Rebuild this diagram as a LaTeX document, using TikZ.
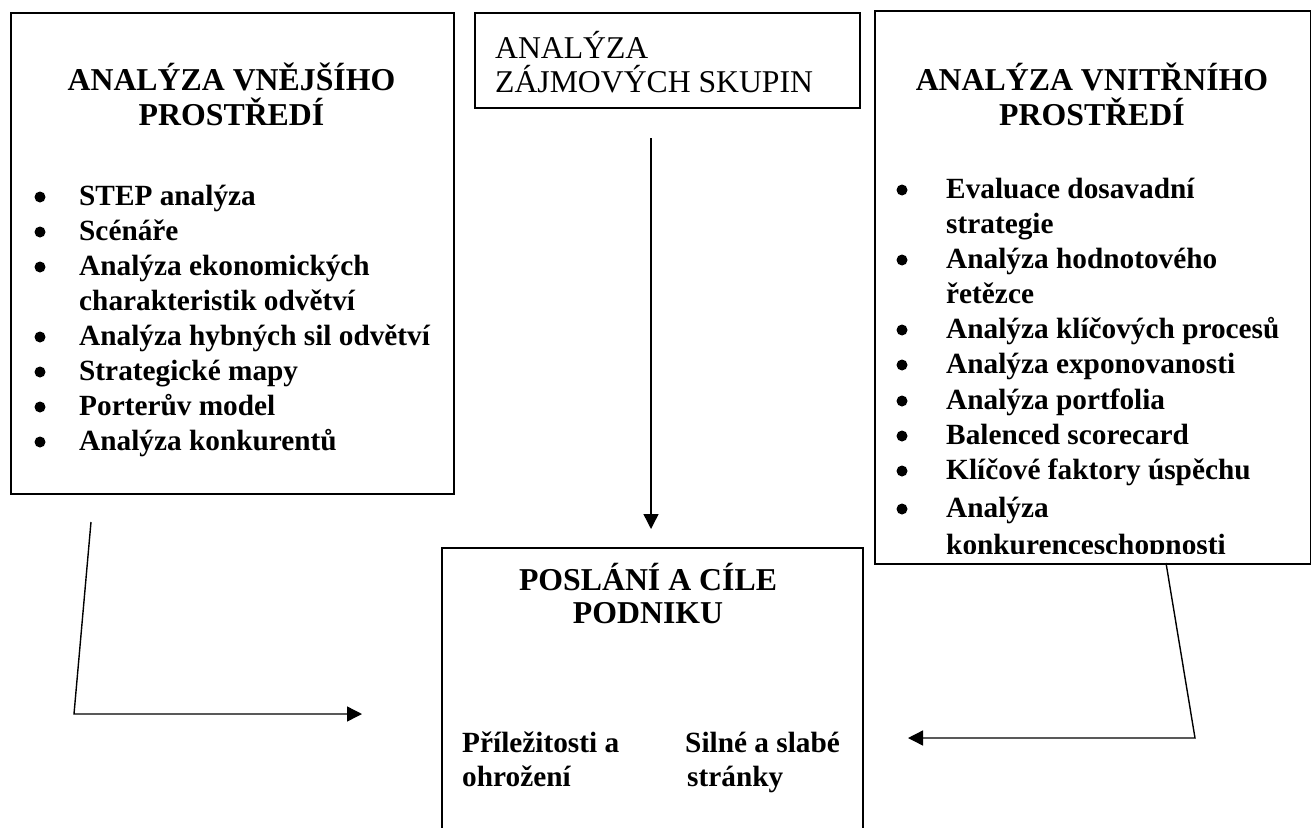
\documentclass[tikz,border=0pt]{standalone}
\usepackage{fontspec}
\setmainfont{Liberation Serif}
\usetikzlibrary{arrows.meta}
\begin{document}
\begin{tikzpicture}[x=1pt,y=-1pt,
  box/.style={draw, line width=2pt, rectangle, inner sep=0pt, anchor=north west},
  head/.style={font=\fontsize{31.8}{35}\selectfont\bfseries, anchor=base, inner sep=0pt},
  item/.style={font=\fontsize{29.3}{35}\selectfont\bfseries, anchor=base west, inner sep=0pt},
  plain/.style={font=\fontsize{31.7}{34}\selectfont, anchor=base west, inner sep=0pt},
  link/.style={line width=1.4pt},
  arr/.style={link, -{Triangle[length=15pt,width=15pt]}}
]
\useasboundingbox (0,0) rectangle (1311,827);
\clip (0,0) rectangle (1311,827);
\fill[white] (0,0) rectangle (1311,827);

% frames
\node[box, minimum width=443pt, minimum height=481pt] (ext) at (10,12) {};
\node[box, minimum width=385pt, minimum height=95pt] (stake) at (474,12) {};
\node[box, minimum width=436pt, minimum height=553pt] (int) at (874,10) {};
\node[box, minimum width=421pt, minimum height=300pt] (goal) at (441,547) {};

% external environment
\node[head] (ext-h1) at (231.5,90) {ANALÝZA VNĚJŠÍHO};
\node[head] (ext-h2) at (231.5,125) {PROSTŘEDÍ};
\foreach \y/\b/\t [count=\i] in {
  205/1/STEP analýza,
  240/1/Scénáře,
  275/1/Analýza ekonomických,
  310/0/charakteristik odvětví,
  345/1/Analýza hybných sil odvětví,
  380/1/Strategické mapy,
  415/1/Porterův model,
  450/1/Analýza konkurentů}{
  \node[item] (ext-\i) at (79,\y) {\t};
  \ifnum\b=1 \fill (40,\y-8) circle (5.5); \fi
}

% stakeholders
\node[plain] (stake-1) at (495,58) {ANALÝZA};
\node[plain] (stake-2) at (495,92) {ZÁJMOVÝCH SKUPIN};

% internal environment (the last line runs into the frame and is cut)
\node[head] (int-h1) at (1092,90) {ANALÝZA VNITŘNÍHO};
\node[head] (int-h2) at (1092,125) {PROSTŘEDÍ};
\begin{scope}
\clip (874,10) rectangle (1310,553.5);
\foreach \y/\b/\t [count=\i] in {
  198/1/Evaluace dosavadní,
  233/0/strategie,
  268/1/Analýza hodnotového,
  303/0/řetězce,
  338/1/Analýza klíčových procesů,
  373/1/Analýza exponovanosti,
  409/1/Analýza portfolia,
  444/1/Balenced scorecard,
  479/1/Klíčové faktory úspěchu,
  517/1/Analýza,
  554/0/konkurenceschopnosti}{
  \node[item] (int-\i) at (946,\y) {\t};
  \ifnum\b=1 \fill (902,\y-8) circle (5.5); \fi
}
\end{scope}

% mission and goals
\node[head] (goal-h1) at (648,590) {POSLÁNÍ A CÍLE};
\node[head] (goal-h2) at (648,623) {PODNIKU};
\node[item] (goal-o1) at (462,752) {Příležitosti a};
\node[item] (goal-o2) at (462,786) {ohrožení};
\node[item] (goal-s1) at (685,752) {Silné a slabé};
\node[item] (goal-s2) at (687,786) {stránky};

% connectors
\coordinate (lc1) at (91,522);
\coordinate (lc2) at (74,714);
\coordinate (lc3) at (362,714);
\draw[arr] (lc1) -- (lc2) -- (lc3);

\coordinate (v1) at (651,138);
\coordinate (v2) at (651,529);
\draw[arr] (v1) -- (v2);

\coordinate (rc1) at (1166,563);
\coordinate (rc2) at (1195,738);
\coordinate (rc3) at (908,738);
\draw[arr] (rc1) -- (rc2) -- (rc3);
\end{tikzpicture}
\end{document}
